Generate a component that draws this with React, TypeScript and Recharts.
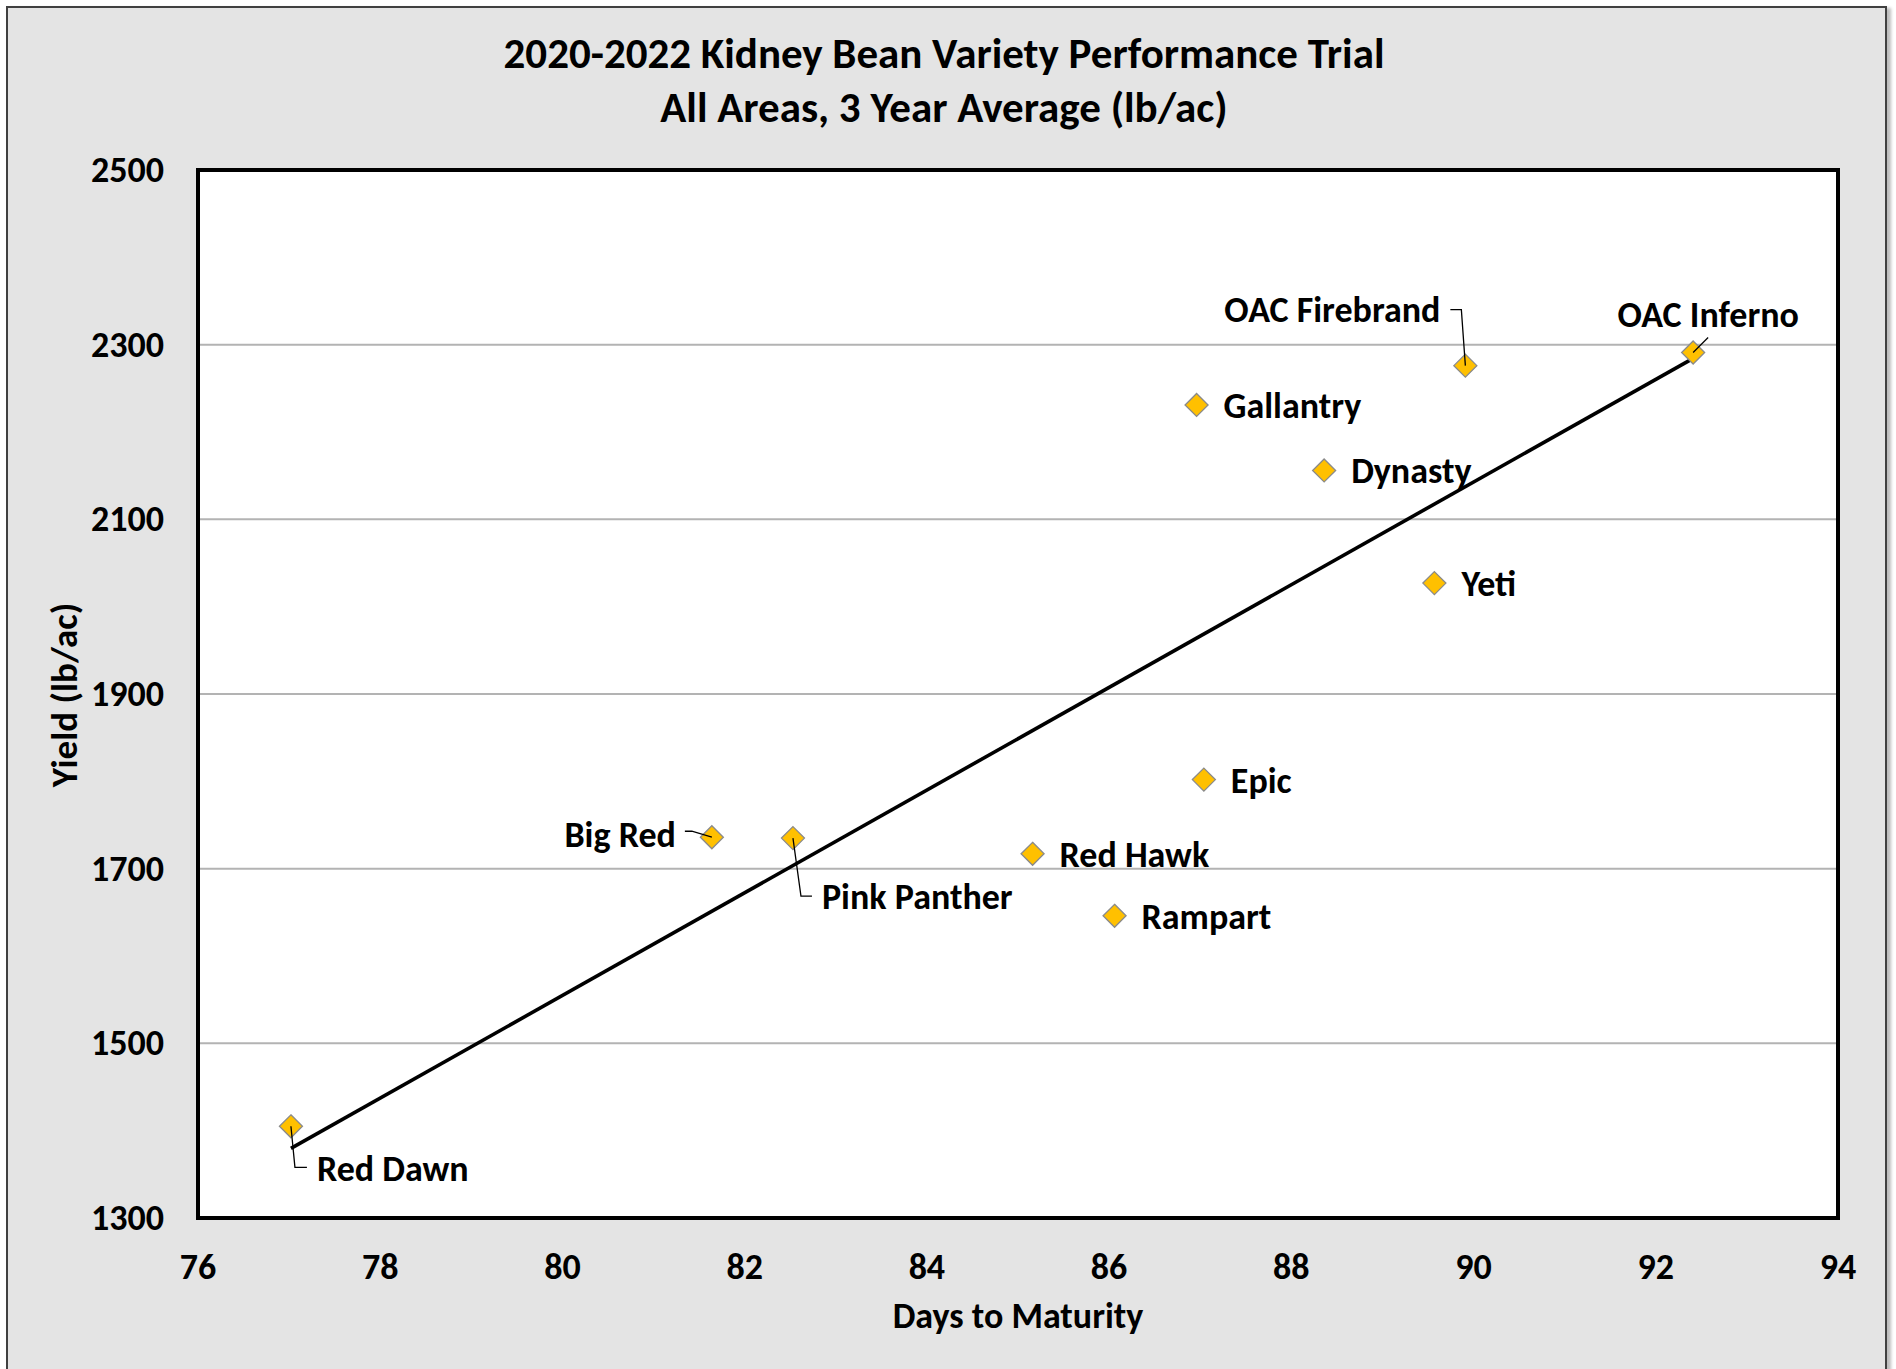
import React from 'react';
import { ScatterChart, Scatter, XAxis, YAxis, CartesianGrid, ReferenceArea, ReferenceLine } from 'recharts';

// values
const varieties = ['Red Dawn', 'Big Red', 'Pink Panther', 'Red Hawk', 'Rampart', 'Epic', 'Gallantry', 'Dynasty', 'Yeti', 'OAC Firebrand', 'OAC Inferno'];
const daysToMaturity = [77.02, 81.64, 82.53, 85.16, 86.06, 87.04, 86.96, 88.36, 89.57, 89.91, 92.41];
const yieldLbAc = [1405, 1736, 1735, 1717, 1646, 1802, 2231, 2156, 2027, 2276, 2291];

const xTicks = [76, 78, 80, 82, 84, 86, 88, 90, 92, 94];
const yTicks = [1300, 1500, 1700, 1900, 2100, 2300, 2500];

const FONT = 'Carlito, Calibri, Lato, sans-serif';

const points = varieties.map((name, i) => ({ name, x: daysToMaturity[i], y: yieldLbAc[i] }));

// Excel style linear trendline (least squares) over the points
const n = points.length;
const mx = points.reduce((s, p) => s + p.x, 0) / n;
const my = points.reduce((s, p) => s + p.y, 0) / n;
const slope = points.reduce((s, p) => s + (p.x - mx) * (p.y - my), 0) / points.reduce((s, p) => s + (p.x - mx) ** 2, 0);
const xMin = Math.min(...daysToMaturity);
const xMax = Math.max(...daysToMaturity);
const trend = [
  { x: xMin, y: my + slope * (xMin - mx) },
  { x: xMax, y: my + slope * (xMax - mx) },
];

// where each data label sits relative to its marker (px)
type Place = { dx: number; dy: number; anchor: 'start' | 'end' | 'middle'; leader?: number[][] };
const labelPlace: Record<string, Place> = {
  'Red Dawn': { dx: 26, dy: 43, anchor: 'start', leader: [[0, 0], [4, 41], [16, 41]] },
  'Big Red': { dx: -36, dy: -2, anchor: 'end', leader: [[-27, -6], [-20, -6], [0, 0]] },
  'Pink Panther': { dx: 29, dy: 59, anchor: 'start', leader: [[0, 0], [8, 58], [19, 58]] },
  'Red Hawk': { dx: 27, dy: 1, anchor: 'start' },
  Rampart: { dx: 27, dy: 1, anchor: 'start' },
  Epic: { dx: 27, dy: 1, anchor: 'start' },
  Gallantry: { dx: 27, dy: 1, anchor: 'start' },
  Dynasty: { dx: 27, dy: 1, anchor: 'start' },
  Yeti: { dx: 27, dy: 1, anchor: 'start' },
  'OAC Firebrand': { dx: -25, dy: -56, anchor: 'end', leader: [[0, 0], [-4, -56], [-15, -56]] },
  'OAC Inferno': { dx: 15, dy: -38, anchor: 'middle', leader: [[0, 0], [15, -15]] },
};

const DiamondWithLabel = (props: any) => {
  const { cx, cy, payload } = props;
  const p = labelPlace[payload.name];
  const r = 11.5;
  return (
    <g>
      <path
        d={`M${cx},${cy - r} L${cx + r},${cy} L${cx},${cy + r} L${cx - r},${cy} Z`}
        fill="#FFC000"
        stroke="#8a8a8a"
        strokeWidth={1.3}
      />
      {p.leader && (
        <polyline
          points={p.leader.map(([a, b]) => `${cx + a},${cy + b}`).join(' ')}
          fill="none"
          stroke="#000"
          strokeWidth={1.3}
        />
      )}
      <text
        x={cx + p.dx}
        y={cy + p.dy}
        textAnchor={p.anchor}
        dominantBaseline="central"
        fontFamily={FONT}
        fontWeight={700}
        fontSize={36}
        fill="#000"
      >
        {payload.name}
      </text>
    </g>
  );
};

const XTick = (props: any) => (
  <text x={props.x} y={props.y} textAnchor="middle" dominantBaseline="central" fontFamily={FONT} fontWeight={700} fontSize={36} fill="#000">
    {props.payload.value}
  </text>
);

const YTick = (props: any) => (
  <text x={props.x} y={props.y} textAnchor="end" dominantBaseline="central" fontFamily={FONT} fontWeight={700} fontSize={36} fill="#000">
    {props.payload.value}
  </text>
);

export default function App() {
  return (
    <div style={{ position: 'absolute', left: 0, top: 0, width: 1896, height: 1369, background: '#fff', overflow: 'hidden', fontFamily: FONT }}>
      <div
        style={{
          position: 'absolute', left: 6, top: 6, width: 1877, height: 1420,
          background: '#e4e4e4', border: '2px solid #404040', boxShadow: '4px 2px 3px #bdbdbd',
        }}
      />
      <div style={{ position: 'absolute', left: 0, width: 1888, top: 27, textAlign: 'center', fontWeight: 700, fontSize: 43, lineHeight: '54px', color: '#000' }}>
        2020-2022 Kidney Bean Variety Performance Trial
        <br />
        All Areas, 3 Year Average (lb/ac)
      </div>
      <div
        style={{
          position: 'absolute', left: 64, top: 695, transform: 'translate(-50%, -50%) rotate(-90deg)',
          whiteSpace: 'nowrap', fontWeight: 700, fontSize: 37, color: '#000',
        }}
      >
        Yield (lb/ac)
      </div>
      <div style={{ position: 'absolute', left: 198, width: 1640, top: 1294, textAlign: 'center', fontWeight: 700, fontSize: 36, color: '#000' }}>
        Days to Maturity
      </div>
      <div style={{ position: 'absolute', left: 0, top: 0 }}>
        <ScatterChart width={1896} height={1369} margin={{ top: 170, right: 58, bottom: 61, left: 68 }}>
          <CartesianGrid vertical={false} fill="#ffffff" stroke="#b3b3b3" strokeWidth={2} />
          <XAxis
            type="number"
            dataKey="x"
            domain={[76, 94]}
            ticks={xTicks}
            interval={0}
            height={90}
            axisLine={false}
            tickLine={false}
            tickSize={0}
            tickMargin={49}
            tick={<XTick />}
          />
          <YAxis
            type="number"
            dataKey="y"
            domain={[1300, 2500]}
            ticks={yTicks}
            interval={0}
            width={130}
            axisLine={false}
            tickLine={false}
            tickSize={0}
            tickMargin={34}
            tick={<YTick />}
          />
          <ReferenceArea x1={76} x2={94} y1={1300} y2={2500} fill="none" stroke="#000" strokeWidth={4} ifOverflow="visible" />
          <Scatter data={points} shape={<DiamondWithLabel />} isAnimationActive={false} />
          <ReferenceLine segment={trend} stroke="#000" strokeWidth={3.6} />
        </ScatterChart>
      </div>
    </div>
  );
}
